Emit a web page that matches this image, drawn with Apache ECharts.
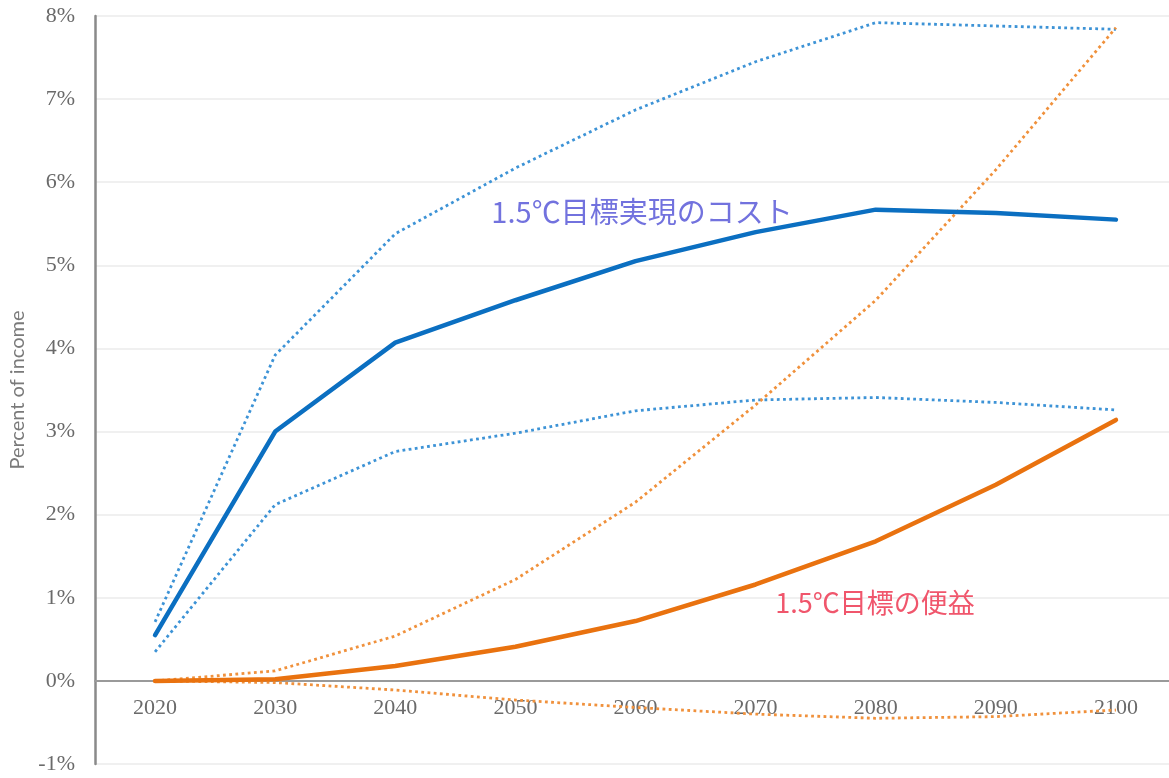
<!DOCTYPE html>
<html>
<head>
<meta charset="utf-8">
<script src="https://cdn.jsdelivr.net/npm/echarts@6/dist/echarts.min.js"></script>
<style>html,body{margin:0;padding:0;background:#fff;}#c{width:1169px;height:778px;}</style>
</head>
<body>
<div id="c"></div>
<script>
const years = ['2020','2030','2040','2050','2060','2070','2080','2090','2100'];
const costMid  = [0.55, 3.00, 4.07, 4.58, 5.05, 5.40, 5.67, 5.63, 5.55];
const costHigh = [0.71, 3.92, 5.38, 6.17, 6.87, 7.45, 7.92, 7.88, 7.84];
const costLow  = [0.35, 2.12, 2.76, 2.98, 3.25, 3.38, 3.41, 3.35, 3.26];
const benMid   = [0.00, 0.02, 0.18, 0.41, 0.72, 1.16, 1.68, 2.36, 3.14];
const benHigh  = [0.00, 0.12, 0.54, 1.22, 2.15, 3.32, 4.58, 6.15, 7.86];
const benLow   = [0.00, -0.02, -0.11, -0.23, -0.32, -0.40, -0.45, -0.43, -0.35];
const yTicks = {min: -1, max: 8, interval: 1};
const yName = 'Percent of income';
const costLabel = '1.5℃目標実現のコスト';
const benLabel = '1.5℃目標の便益';

const chart = echarts.init(document.getElementById('c'), null, {renderer: 'canvas'});
const blue = '#0b6fc1', blueDot = '#3d93d6', orange = '#e9720f', orangeDot = '#f0913c';
function line(name, data, color, solid) {
  return {
    name, type: 'line', data, symbol: 'none', smooth: false, z: solid ? 5 : 3,
    lineStyle: solid ? {color, width: 4.5, cap: 'round'} : {color, width: 2.8, type: [2.8, 3.4]}
  };
}
chart.setOption({
  animation: false,
  backgroundColor: '#fff',
  grid: {left: 95, right: -7, top: 16, bottom: 14, containLabel: false, outerBoundsMode: 'none'},
  xAxis: {
    type: 'category', data: years, boundaryGap: true,
    axisLine: {onZero: true, lineStyle: {color: '#9a9a9a', width: 2}},
    axisTick: {show: false},
    axisLabel: {fontFamily: 'Liberation Serif', fontSize: 22, color: '#6a6a6a', margin: -67},
    splitLine: {show: false}
  },
  yAxis: {
    type: 'value', min: yTicks.min, max: yTicks.max, interval: yTicks.interval,
    name: yName, nameLocation: 'middle', nameRotate: 90, nameGap: 66,
    nameTextStyle: {fontFamily: 'Lato', fontSize: 20, color: '#7a7a7a'},
    axisLine: {show: true, lineStyle: {color: '#8a8a8a', width: 2.5}},
    axisTick: {show: false},
    axisLabel: {formatter: '{value}%', fontFamily: 'Liberation Serif', fontSize: 22, color: '#6a6a6a', margin: 20},
    splitLine: {lineStyle: {color: '#ebebeb', width: 1.5}}
  },
  series: [
    line('costHigh', costHigh, blueDot, false),
    line('costLow', costLow, blueDot, false),
    line('benHigh', benHigh, orangeDot, false),
    line('benLow', benLow, orangeDot, false),
    line('costMid', costMid, blue, true),
    line('benMid', benMid, orange, true)
  ],
  graphic: [
    {type: 'text', x: 642, y: 212, z: 10, style: {text: costLabel, fill: '#7272de', font: '29px "Noto Sans CJK JP"', align: 'center', verticalAlign: 'middle'}},
    {type: 'text', x: 875, y: 603, z: 10, style: {text: benLabel, fill: '#f0566c', font: '27px "Noto Sans CJK JP"', align: 'center', verticalAlign: 'middle'}}
  ]
});
</script>
</body>
</html>
